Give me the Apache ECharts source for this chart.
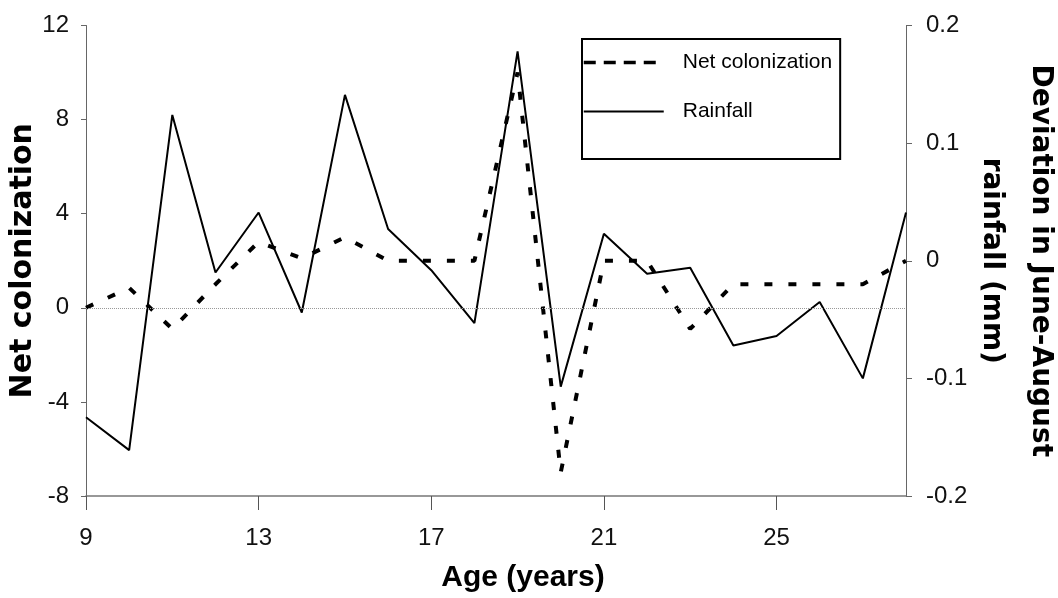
<!DOCTYPE html>
<html>
<head>
<meta charset="utf-8">
<script src="https://cdn.jsdelivr.net/npm/echarts@6/dist/echarts.min.js"></script>
<style>
  html, body { margin: 0; padding: 0; background: #fff; }
  #chart { width: 1058px; height: 598px; }
</style>
</head>
<body>
<div id="chart"></div>
<script>
// ages on the x axis
const ages = [9, 10, 11, 12, 13, 14, 15, 16, 17, 18, 19, 20, 21, 22, 23, 24, 25, 26, 27, 28]
// net colonization, left axis
const netColonization = [0, 0.85, -0.9, 1, 2.8, 2.1, 3, 2, 2, 2, 10, -7, 2, 2, -0.9, 1, 1, 1, 1, 2]
// deviation in June-August rainfall (mm), right axis
const rainfall = [-0.133, -0.161, 0.124, -0.010, 0.041, -0.044, 0.141, 0.027, -0.008, -0.053,
  0.178, -0.107, 0.023, -0.011, -0.006, -0.072, -0.064, -0.035, -0.100, 0.041]
const xTicks = [9, 13, 17, 21, 25]

const sans = 'Liberation Sans, Arial, sans-serif'
const boldSans = 'DejaVu Sans, sans-serif'

const chart = echarts.init(document.getElementById('chart'))

chart.setOption({
  animation: false,
  backgroundColor: '#fff',
  grid: { left: 86, right: 152, top: 25.5, bottom: 102, outerBoundsMode: 'none' },
  legend: {
    orient: 'vertical',
    left: 582,
    top: 39,
    padding: [13, 8, 37, 0],
    itemWidth: 80,
    itemHeight: 14,
    itemGap: 28,
    borderColor: '#000',
    borderWidth: 2,
    backgroundColor: '#fff',
    textStyle: { fontFamily: sans, fontSize: 21, lineHeight: 21, color: '#000', padding: [0, 0, 0, 14] },
    data: [
      {
        name: 'Net colonization',
        itemStyle: { opacity: 0 },
        lineStyle: { type: [12, 8], width: 3.5, color: '#000' }
      },
      {
        name: 'Rainfall',
        itemStyle: { opacity: 0 },
        lineStyle: { width: 2, color: '#000' }
      }
    ]
  },
  xAxis: {
    type: 'value',
    min: 9,
    max: 28,
    name: 'Age (years)',
    nameLocation: 'middle',
    nameGap: 67,
    nameMoveOverlap: false,
    nameTextStyle: { fontFamily: sans, fontSize: 30, fontWeight: 'bold', color: '#000', padding: [0, 0, 0, 54] },
    splitLine: { show: false },
    axisLine: { onZero: false, lineStyle: { color: '#777', width: 1.5 } },
    axisTick: { customValues: xTicks, length: 14, lineStyle: { color: '#555' } },
    axisLabel: { customValues: xTicks, margin: 30, fontFamily: sans, fontSize: 24, color: '#111' }
  },
  yAxis: [
    {
      type: 'value',
      min: -8,
      max: 12,
      interval: 4,
      name: 'Net colonization',
      nameLocation: 'middle',
      nameGap: 48,
      nameMoveOverlap: false,
      nameTextStyle: { fontFamily: boldSans, fontSize: 30, fontWeight: 'bold', color: '#000' },
      splitLine: { show: false },
      axisLine: { show: true, onZero: false, lineStyle: { color: '#666', width: 1 } },
      axisTick: { show: true, length: 5, lineStyle: { color: '#666' } },
      axisLabel: { margin: 17, fontFamily: sans, fontSize: 24, color: '#111' }
    },
    {
      type: 'value',
      position: 'right',
      min: -0.2,
      max: 0.2,
      interval: 0.1,
      name: 'Deviation in June-August\nrainfall (mm)',
      nameLocation: 'middle',
      nameRotate: -90,
      nameGap: 61,
      nameMoveOverlap: false,
      nameTextStyle: { fontFamily: boldSans, fontSize: 28, lineHeight: 49, fontWeight: 'bold', color: '#000' },
      splitLine: { show: false },
      axisLine: { show: true, onZero: false, lineStyle: { color: '#666', width: 1 } },
      axisTick: { show: true, length: 6, lineStyle: { color: '#666' } },
      axisLabel: { margin: 20, fontFamily: sans, fontSize: 24, color: '#111' }
    }
  ],
  series: [
    {
      name: 'Rainfall',
      type: 'line',
      yAxisIndex: 1,
      symbol: 'none',
      data: ages.map((a, i) => [a, rainfall[i]]),
      lineStyle: { color: '#000', width: 2 },
      itemStyle: { color: '#000' }
    },
    {
      name: 'Net colonization',
      type: 'line',
      yAxisIndex: 0,
      symbol: 'none',
      data: ages.map((a, i) => [a, netColonization[i]]),
      lineStyle: { color: '#000', width: 4, type: [8, 16] },
      itemStyle: { color: '#000' },
      markLine: {
        silent: true,
        symbol: ['none', 'none'],
        label: { show: false },
        lineStyle: { color: '#999', type: 'dotted', width: 1 },
        data: [{ yAxis: 0 }]
      }
    }
  ]
})
</script>
</body>
</html>
